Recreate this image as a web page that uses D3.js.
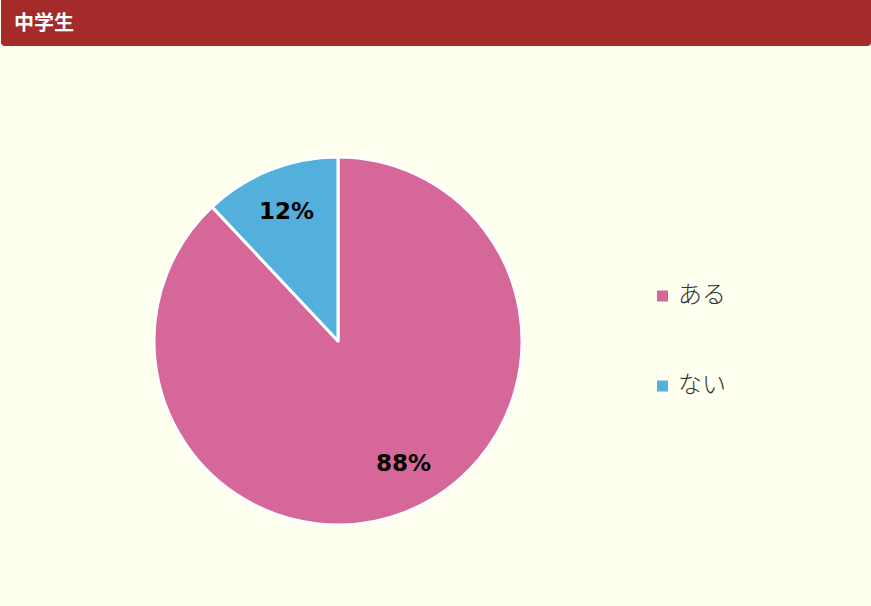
<!DOCTYPE html>
<html>
<head>
<meta charset="utf-8">
<script src="https://cdn.jsdelivr.net/npm/d3@7"></script>
<style>
    html, body { margin: 0; padding: 0; background: #fffff0; }
    #chart { width: 871px; height: 606px; }
</style>
</head>
<body>
<div id="chart"></div>
<script>
// Chart values
const title = "中学生";
const categories = ["ある", "ない"];
const values = [88, 12];
const colors = ["#d66799", "#53b0dd"];

const width = 871;
const height = 606;
const radius = 184;
const cx = 338;
const cy = 341;

const svg = d3.select("#chart")
    .append("svg")
    .attr("width", width)
    .attr("height", height);

svg.append("rect")
    .attr("width", width)
    .attr("height", height)
    .attr("fill", "#fffff0");

// Header bar
svg.append("rect")
    .attr("x", 1)
    .attr("y", -6)
    .attr("width", width - 1)
    .attr("height", 52)
    .attr("rx", 4)
    .attr("fill", "#a52a2a");

svg.append("text")
    .attr("x", 14)
    .attr("y", 30)
    .attr("fill", "#fff")
    .attr("font-family", "'Noto Sans CJK JP', sans-serif")
    .attr("font-weight", "bold")
    .attr("font-size", 20)
    .text(title);

// Pie: first slice starts at 12 o'clock going clockwise
const pie = d3.pie()
    .sort(null)
    .value(d => d.value);

const arc = d3.arc()
    .innerRadius(0)
    .outerRadius(radius);

const labelArc = d3.arc()
    .innerRadius(radius * 0.76)
    .outerRadius(radius * 0.76);

const data = categories.map((c, i) => ({ category: c, value: values[i], color: colors[i] }));
const total = d3.sum(values);

const g = svg.append("g")
    .attr("transform", `translate(${cx},${cy})`);

g.selectAll("path")
    .data(pie(data))
    .enter()
    .append("path")
    .attr("d", arc)
    .attr("fill", d => d.data.color)
    .attr("stroke", "#fff")
    .attr("stroke-width", 3)
    .attr("stroke-linejoin", "round");

g.selectAll("text.pct")
    .data(pie(data))
    .enter()
    .append("text")
    .attr("class", "pct")
    .attr("transform", d => {
        const [x, y] = labelArc.centroid(d);
        // nudge the big slice's label a bit, like the original layout
        return d.index === 0 ? `translate(${x + 14},${y - 8})` : `translate(${x},${y})`;
    })
    .attr("text-anchor", "middle")
    .attr("dominant-baseline", "central")
    .attr("font-family", "'DejaVu Sans', Verdana, sans-serif")
    .attr("font-weight", "bold")
    .attr("font-size", 23)
    .attr("fill", "#000")
    .text(d => Math.round(d.data.value / total * 100) + "%");

// Legend
const legendY = d3.scalePoint()
    .domain(categories)
    .range([296, 386]);

const legend = svg.append("g")
    .selectAll("g")
    .data(data)
    .enter()
    .append("g")
    .attr("transform", d => `translate(657,${legendY(d.category)})`);

legend.append("rect")
    .attr("x", 0)
    .attr("y", -5.5)
    .attr("width", 11)
    .attr("height", 11)
    .attr("fill", d => d.color);

legend.append("text")
    .attr("x", 21)
    .attr("y", -4)
    .attr("dominant-baseline", "central")
    .attr("font-family", "'Noto Sans CJK JP', sans-serif")
    .attr("font-weight", 300)
    .attr("font-size", 24)
    .attr("fill", "#333")
    .text(d => d.category);
</script>
</body>
</html>
